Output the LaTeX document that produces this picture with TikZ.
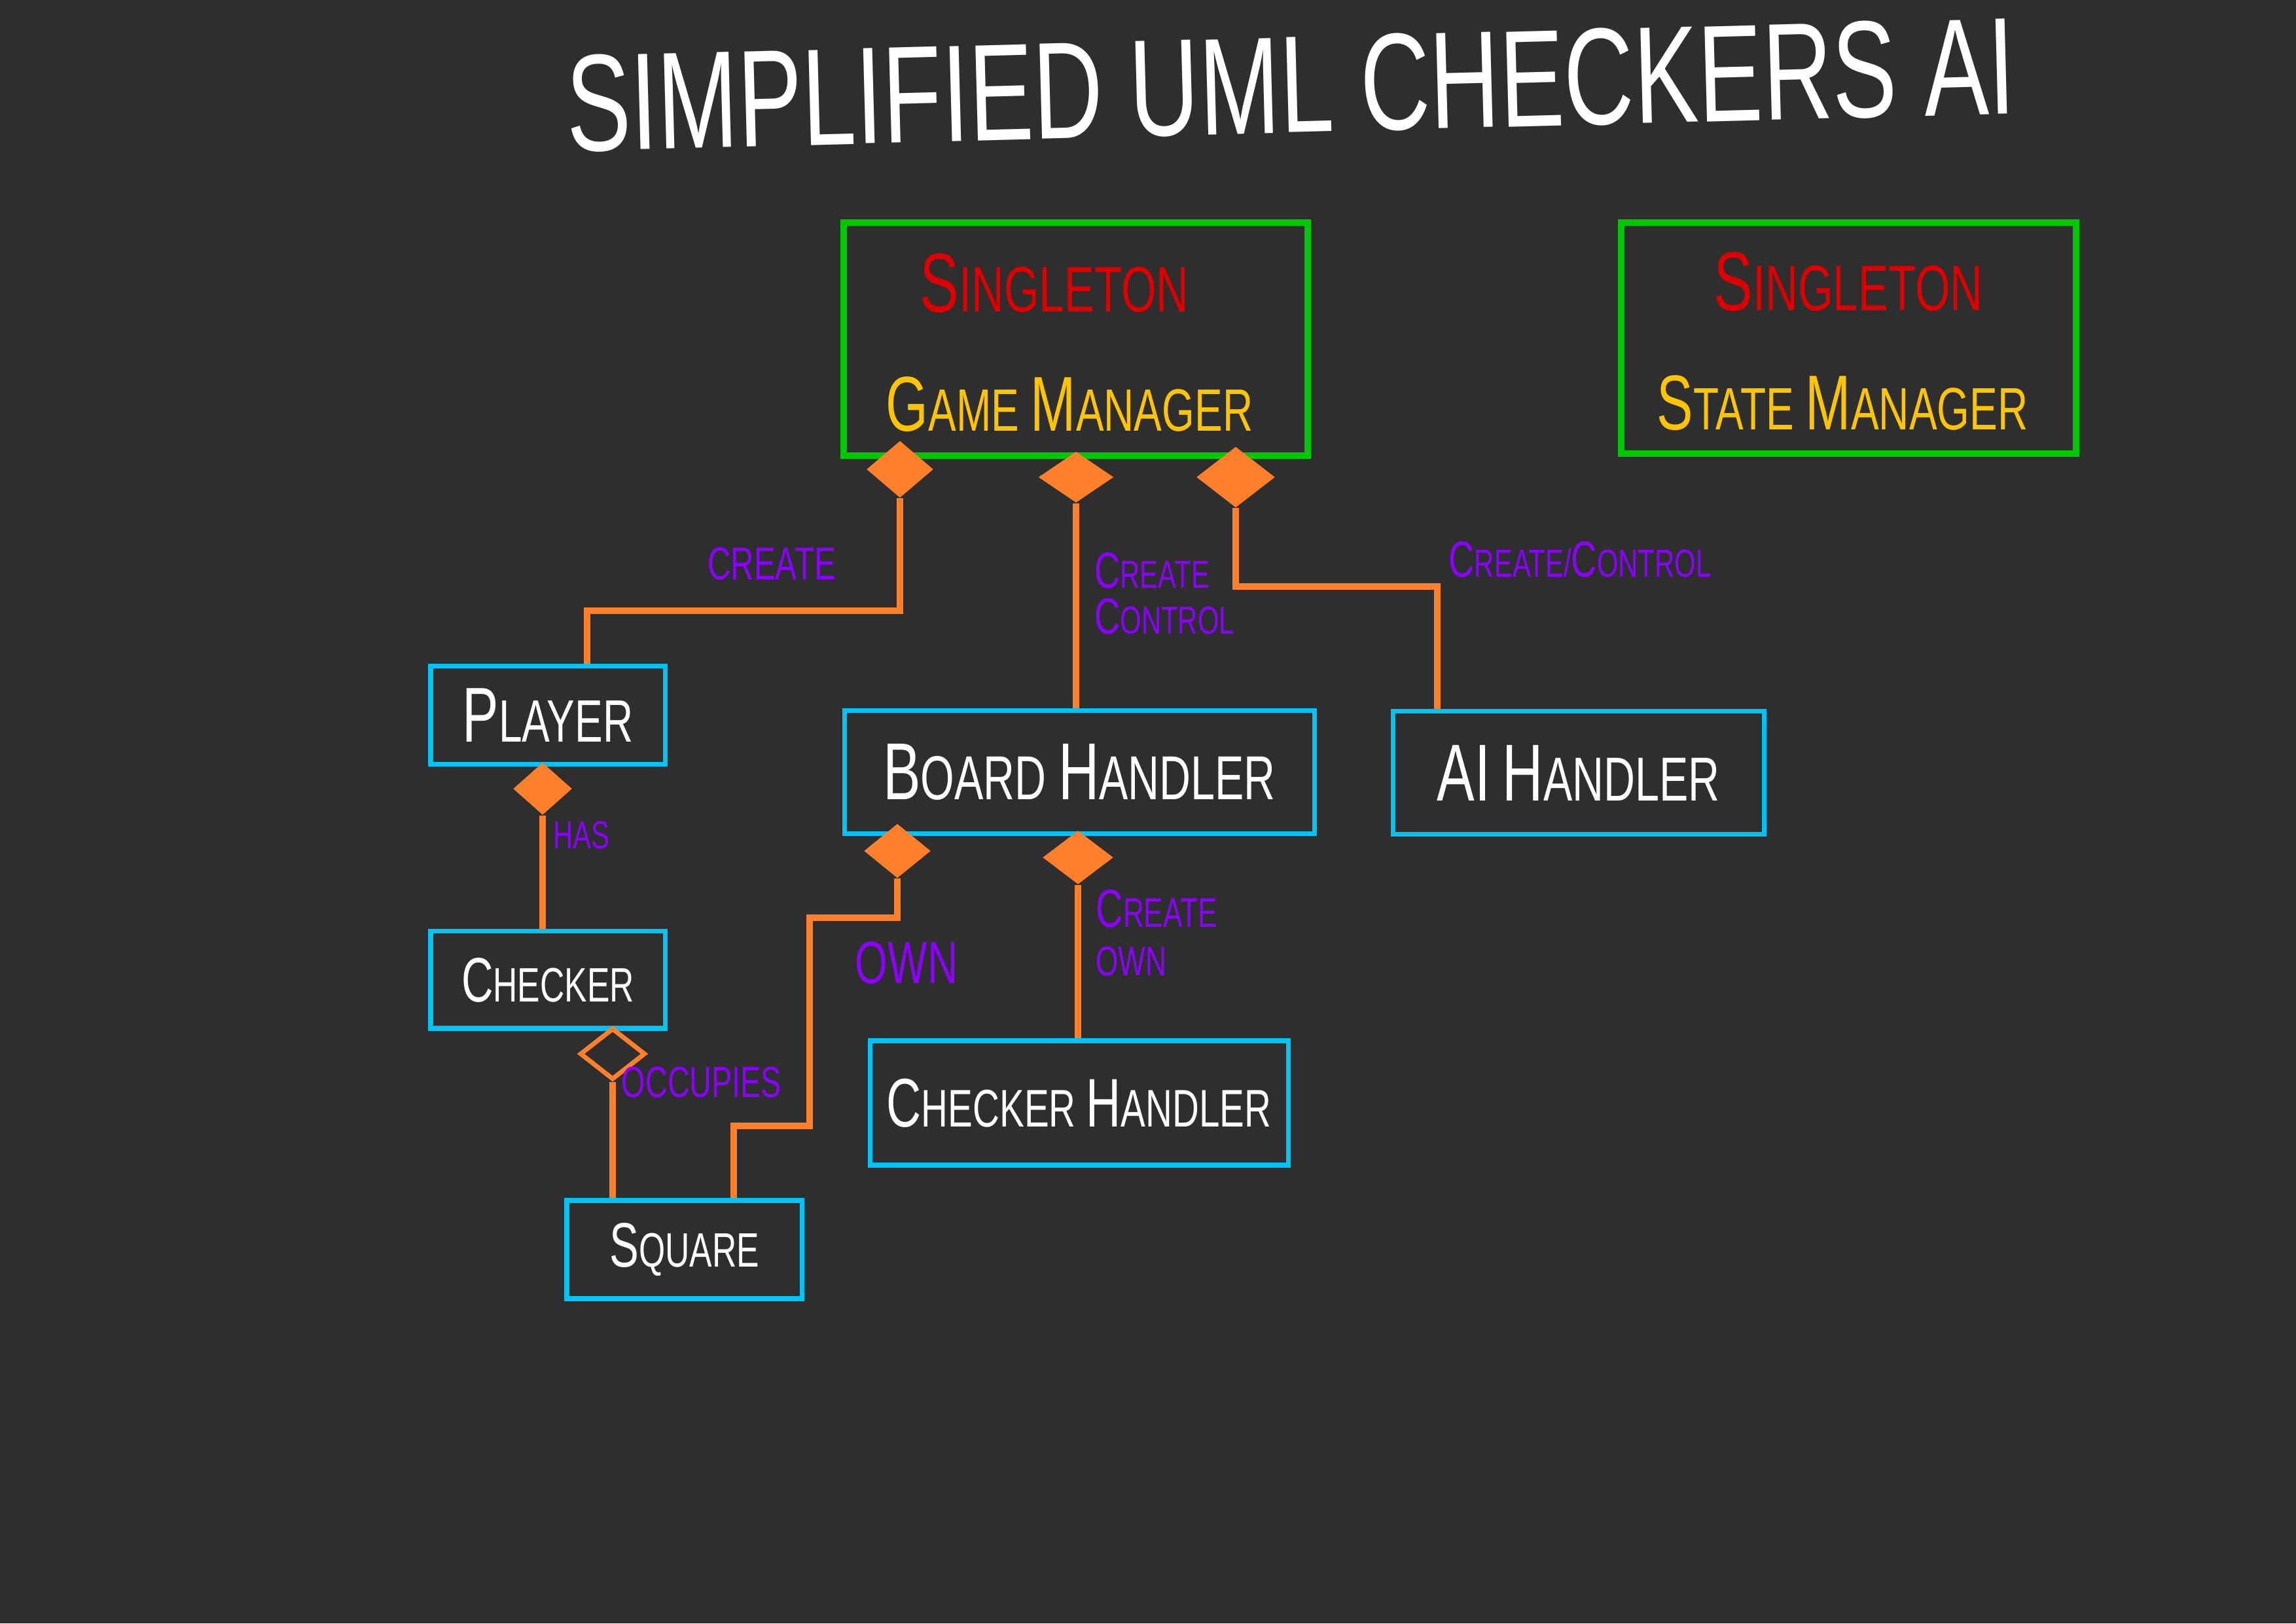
\documentclass[tikz,border=0pt]{standalone}
\usepackage{fontspec}
\usepackage{tikz}
\usetikzlibrary{shapes.geometric,positioning}
\newfontfamily\handfont{Liberation Sans}[FakeStretch=0.7]
\newcommand\hs[2]{\handfont\fontsize{#1}{#2}\selectfont}
\newcommand\initcap[1]{\scalebox{1.3}{#1}}
\definecolor{Fondo}{HTML}{2E2E2E}
\definecolor{Lima}{HTML}{00C800}
\definecolor{Cielo}{HTML}{00C3F5}
\definecolor{Naranja}{HTML}{FF7F2A}
\definecolor{Morado}{HTML}{8C00FF}
\definecolor{Rojo}{HTML}{DC0000}
\definecolor{Oro}{HTML}{FFC400}

\begin{document}
\begin{tikzpicture}[
  single/.style={draw=Lima,line width=2.6pt,inner sep=0pt},
  classbox/.style={draw=Cielo,line width=2pt,text=white,inner sep=0pt,font=\hs{24}{28}},
  comp/.style={diamond,fill=Naranja,inner sep=0pt},
  aggr/.style={diamond,draw=Naranja,line width=2pt,fill=Fondo,inner sep=0pt},
  link/.style={draw=Naranja,line width=2.6pt},
  role/.style={text=Morado,align=left}
]
  \fill[Fondo] (0,0) rectangle (35.08,24.80);
  \node[text=white,font=\hs{60}{66},rotate=1.5] (title) at (19.72,23.50)
    {SIMPLIFIED UML CHECKERS AI};

  % Singletons
  \node[single,minimum width=7.09cm,minimum height=3.56cm] (gm) at (16.435,19.62) {};
  \node[text=Rojo,font=\hs{28}{32}] (gm-s) at (16.11,20.48) {\initcap{S}INGLETON};
  \node[text=Oro,font=\hs{26}{30}] (gm-n) at (16.34,18.62) {\initcap{G}AME \initcap{M}ANAGER};

  \node[single,minimum width=6.95cm,minimum height=3.53cm] (sm) at (28.245,19.635) {};
  \node[text=Rojo,font=\hs{28}{32}] (sm-s) at (28.24,20.50) {\initcap{S}INGLETON};
  \node[text=Oro,font=\hs{26}{30}] (sm-n) at (28.15,18.64) {\initcap{S}TATE \initcap{M}ANAGER};

  % Clases
  \node[classbox,minimum width=3.58cm,minimum height=1.50cm,font=\hs{26}{30}] (player) at (8.37,13.87) {\initcap{P}LAYER};
  \node[classbox,minimum width=3.58cm,minimum height=1.48cm,font=\hs{21}{25}] (checker) at (8.37,9.83) {\initcap{C}HECKER};
  \node[classbox,minimum width=3.59cm,minimum height=1.50cm,font=\hs{21}{25}] (square) at (10.455,5.71) {\initcap{S}QUARE};
  \node[classbox,minimum width=7.18cm,minimum height=1.88cm,font=\hs{27}{31}] (board) at (16.49,13.00) {\initcap{B}OARD \initcap{H}ANDLER};
  \node[classbox,minimum width=6.39cm,minimum height=1.90cm,font=\hs{23}{27}] (chandler) at (16.485,7.95) {\initcap{C}HECKER \initcap{H}ANDLER};
  \node[classbox,minimum width=5.67cm,minimum height=1.88cm,font=\hs{27}{31}] (ai) at (24.115,12.99) {\initcap{A}\initcap{I} \initcap{H}ANDLER};

  % Rombos
  \node[comp,minimum width=1.02cm,minimum height=0.87cm] (gmd1) at (13.75,17.63) {};
  \node[comp,minimum width=1.15cm,minimum height=0.78cm] (gmd2) at (16.44,17.51) {};
  \node[comp,minimum width=1.20cm,minimum height=0.93cm] (gmd3) at (18.88,17.51) {};
  \node[comp,minimum width=0.90cm,minimum height=0.80cm] (pld) at (8.29,12.75) {};
  \node[aggr,minimum width=1.00cm,minimum height=0.79cm] (cd) at (9.36,8.70) {};
  \node[comp,minimum width=1.02cm,minimum height=0.83cm] (bhd1) at (13.71,11.80) {};
  \node[comp,minimum width=1.08cm,minimum height=0.82cm] (bhd2) at (16.47,11.70) {};

  % Conectores
  \coordinate (bend1) at (8.97,15.47);
  \coordinate (bend3) at (21.96,15.84);
  \coordinate (bend4) at (12.37,10.78);
  \coordinate (bend5) at (11.21,7.60);
  \draw[link] (gmd1.south) |- (bend1) -- (bend1 |- player.north);
  \draw[link] (gmd2.south) -- (gmd2.south |- board.north);
  \draw[link] (gmd3.south) |- (bend3) -- (bend3 |- ai.north);
  \draw[link] (pld.south) -- (pld.south |- checker.north);
  \draw[link] (cd.south) -- (cd.south |- square.north);
  \draw[link] (bhd1.south) |- (bend4) |- (bend5) -- (bend5 |- square.north);
  \draw[link] (bhd2.south) -- (bhd2.south |- chandler.north);

  % Roles
  \node[role,font=\hs{20}{24}] (r-create) at (11.79,16.19) {CREATE};
  \node[role,font=\hs{17}{20},anchor=west] (r-cc) at (16.60,15.73)
    {\initcap{C}REATE\\\initcap{C}ONTROL};
  \node[role,font=\hs{17}{20}] (r-ccs) at (24.14,16.25) {\initcap{C}REATE/\initcap{C}ONTROL};
  \node[role,font=\hs{17}{20}] (r-has) at (8.88,12.04) {HAS};
  \node[role,font=\hs{26}{30}] (r-own) at (13.85,10.09) {OWN};
  \node[role,font=\hs{18}{21},anchor=west] (r-co) at (16.62,10.55)
    {\initcap{C}REATE\\OWN};
  \node[role,font=\hs{19}{22}] (r-occ) at (10.72,8.26) {OCCUPIES};
\end{tikzpicture}
\end{document}
